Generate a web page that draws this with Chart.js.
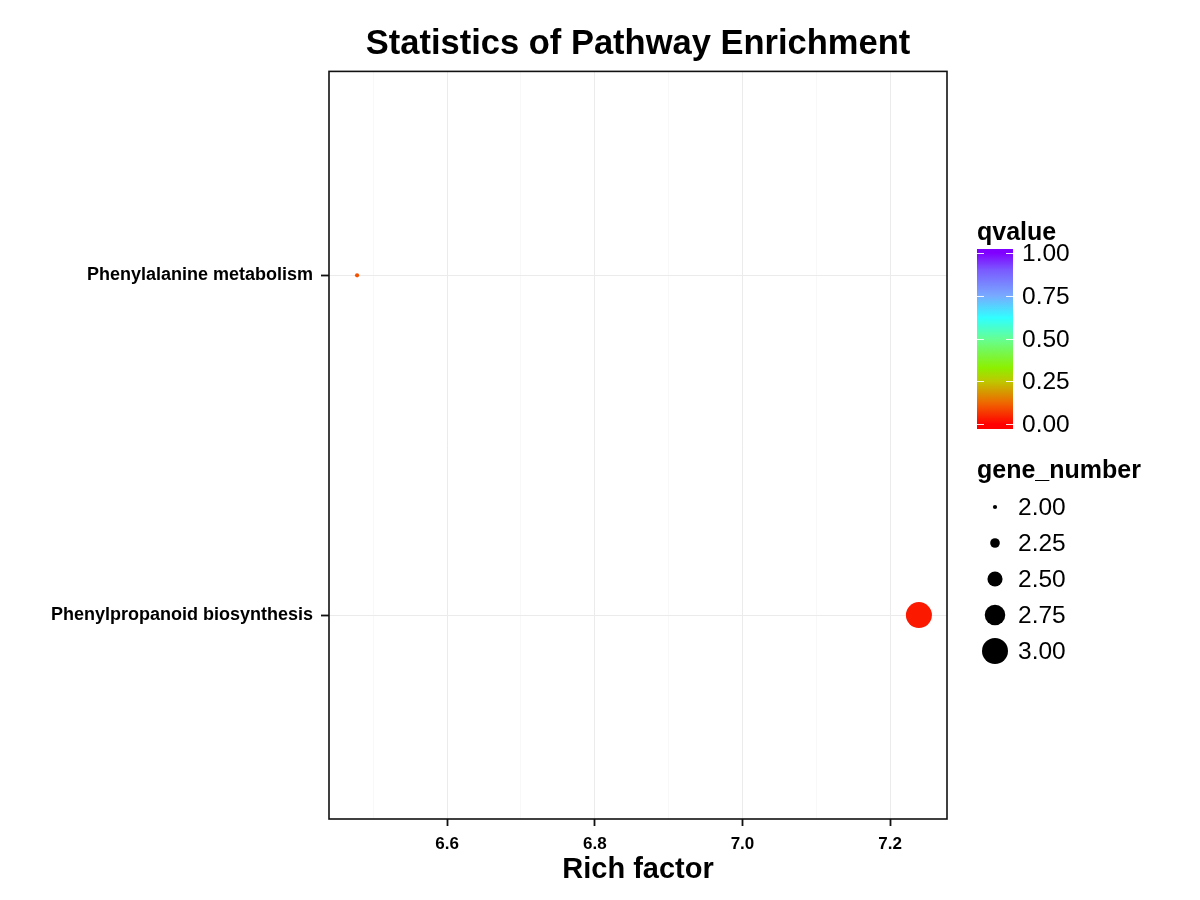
<!DOCTYPE html>
<html>
<head>
<meta charset="utf-8">
<title>Statistics of Pathway Enrichment</title>
<script src="https://cdn.jsdelivr.net/npm/chart.js@4.4.1/dist/chart.umd.min.js"></script>
<style>
  html, body { margin: 0; padding: 0; background: #fff; }
  #wrap { width: 1200px; height: 900px; }
</style>
</head>
<body>
<div id="wrap"><canvas id="enrich"></canvas></div>
<script>
// pathways listed bottom to top (ggplot discrete axis order)
const pathways = ['Phenylpropanoid biosynthesis', 'Phenylalanine metabolism'];
const richFactor = [7.239, 6.478];
const qvalue = [0.03, 0.10];
const geneNumber = [3, 2];

const xMajor = [6.6, 6.8, 7.0, 7.2];
const xMinor = [6.5, 6.7, 6.9, 7.1];
const qBreaks = [0, 0.25, 0.5, 0.75, 1];
const sizeBreaks = [2, 2.25, 2.5, 2.75, 3];

const FONT = '"Liberation Sans", Arial, Helvetica, sans-serif';

// colour scale for qvalue (0 -> red, 1 -> purple)
const qStops = [
    [0.00, [255, 0, 0]],
    [0.12, [240, 100, 0]],
    [0.25, [190, 200, 0]],
    [0.33, [140, 240, 0]],
    [0.50, [100, 255, 150]],
    [0.62, [48, 255, 255]],
    [0.75, [120, 170, 255]],
    [0.90, [122, 90, 255]],
    [1.00, [128, 0, 255]]
];
function qColor(q) {
    for (let i = 1; i < qStops.length; i++) {
        if (q <= qStops[i][0]) {
            const [a, ca] = qStops[i - 1], [b, cb] = qStops[i];
            const t = (q - a) / (b - a);
            const c = ca.map((v, k) => Math.round(v + (cb[k] - v) * t));
            return `rgb(${c[0]},${c[1]},${c[2]})`;
        }
    }
    return 'rgb(128,0,255)';
}
// gene_number -> radius in px
const gMin = Math.min(...sizeBreaks), gMax = Math.max(...sizeBreaks);
function sizeOf(g) { return 2.1 + 10.9 * (g - gMin) / (gMax - gMin); }

// x range with 5% expansion like ggplot
const xr = Math.max(...richFactor) - Math.min(...richFactor);
const xMin = Math.min(...richFactor) - xr * 0.05;
const xMax = Math.max(...richFactor) + xr * 0.05;

const panelBox = {
    id: 'panelBox',
    afterDatasetsDraw(chart) {
        const { ctx, chartArea: a } = chart;
        ctx.save();
        ctx.strokeStyle = '#111';
        ctx.lineWidth = 1.6;
        ctx.strokeRect(a.left, a.top, a.right - a.left, a.bottom - a.top);
        ctx.restore();
    }
};

const legends = {
    id: 'legends',
    afterDraw(chart) {
        const ctx = chart.ctx;
        ctx.save();
        ctx.fillStyle = '#000';
        ctx.textBaseline = 'middle';
        ctx.textAlign = 'left';
        // qvalue colour bar
        ctx.font = `bold 25px ${FONT}`;
        ctx.fillText('qvalue', 977, 233);
        const bx = 977, bw = 36, top = 249, bot = 429;
        const y0 = 424, y1 = 253;
        const grad = ctx.createLinearGradient(0, y0, 0, y1);
        qStops.forEach(([p, c]) => grad.addColorStop(p, `rgb(${c[0]},${c[1]},${c[2]})`));
        ctx.fillStyle = grad;
        ctx.fillRect(bx, top, bw, bot - top);
        ctx.strokeStyle = 'rgba(255,255,255,0.9)';
        ctx.lineWidth = 1;
        ctx.font = `24.5px ${FONT}`;
        qBreaks.forEach(b => {
            const y = Math.round(y0 + (y1 - y0) * b) + 0.5;
            ctx.beginPath();
            ctx.moveTo(bx, y); ctx.lineTo(bx + 7, y);
            ctx.moveTo(bx + bw - 7, y); ctx.lineTo(bx + bw, y);
            ctx.stroke();
            ctx.fillStyle = '#000';
            ctx.fillText(b.toFixed(2), 1022, y + 1);
        });
        // gene_number size legend
        ctx.font = `bold 25px ${FONT}`;
        ctx.fillText('gene_number', 977, 471);
        ctx.font = `24.5px ${FONT}`;
        sizeBreaks.forEach((g, i) => {
            const y = 507 + 36 * i;
            ctx.beginPath();
            ctx.arc(995, y, sizeOf(g), 0, Math.PI * 2);
            ctx.fill();
            ctx.fillText(g.toFixed(2), 1018, y + 1);
        });
        ctx.restore();
    }
};

new Chart(document.getElementById('enrich'), {
    type: 'bubble',
    data: {
        datasets: [{
            data: pathways.map((p, i) => ({ x: richFactor[i], y: i + 1, r: sizeOf(geneNumber[i]) })),
            backgroundColor: qvalue.map(qColor),
            borderWidth: 0,
            hoverBorderWidth: 0
        }]
    },
    options: {
        responsive: true, maintainAspectRatio: false, animation: false,
        layout: { padding: { left: 0, right: 253, top: 0, bottom: 0 } },
        plugins: {
            legend: { display: false },
            tooltip: { enabled: false },
            title: {
                display: true, fullSize: false, text: 'Statistics of Pathway Enrichment',
                color: '#000', font: { family: FONT, size: 34.5, weight: 'bold', lineHeight: 1.2 },
                padding: { top: 24, bottom: 6 }
            }
        },
        scales: {
            x: {
                type: 'linear', min: xMin, max: xMax,
                afterBuildTicks: s => { s.ticks = [...xMinor, ...xMajor].sort((a, b) => a - b).map(v => ({ value: v })); },
                afterFit: s => { s.height = 81; },
                border: { display: false },
                grid: {
                    color: c => xMajor.includes(c.tick.value) ? '#EBEBEB' : '#F6F6F6',
                    lineWidth: c => xMajor.includes(c.tick.value) ? 1 : 0.8,
                    tickColor: c => xMajor.includes(c.tick.value) ? '#111' : 'rgba(0,0,0,0)',
                    tickLength: 7, tickWidth: 1.8
                },
                ticks: {
                    autoSkip: false, maxRotation: 0, padding: 8, color: '#000',
                    font: { family: FONT, size: 17, weight: 'bold' },
                    callback: v => xMajor.includes(v) ? v.toFixed(1) : ''
                },
                title: {
                    display: true, text: 'Rich factor', color: '#000',
                    font: { family: FONT, size: 29, weight: 'bold', lineHeight: 1.2 },
                    padding: { top: 0, bottom: 13 }
                }
            },
            y: {
                type: 'linear', min: 0.4, max: pathways.length + 0.6,
                afterBuildTicks: s => { s.ticks = pathways.map((p, i) => ({ value: i + 1 })); },
                afterFit: s => { s.width = 329; },
                border: { display: false },
                grid: { color: '#EBEBEB', lineWidth: 1, tickColor: '#111', tickLength: 8, tickWidth: 1.8 },
                ticks: {
                    autoSkip: false, padding: 8, color: '#000',
                    font: { family: FONT, size: 18, weight: 'bold' },
                    callback: v => pathways[v - 1] || ''
                }
            }
        }
    },
    plugins: [panelBox, legends]
});
</script>
</body>
</html>
